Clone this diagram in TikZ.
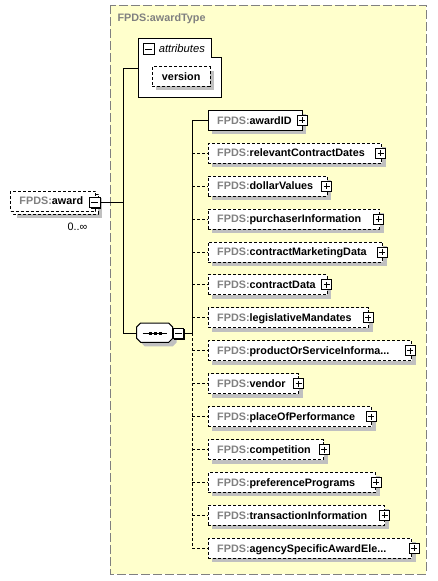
\documentclass[tikz,border=0pt]{standalone}
\usepackage{fontspec}
\setmainfont{Liberation Sans}
\usetikzlibrary{shadows}
\definecolor{typebg}{HTML}{FFFFCC}
\definecolor{framegray}{HTML}{808080}
\definecolor{boxshadow}{HTML}{C0C0C0}
\definecolor{prefixgray}{HTML}{808080}
\newcommand{\fpds}{\textcolor{prefixgray}{FPDS:}}
\tikzset{
    shade/.style={drop shadow={shadow xshift=4pt, shadow yshift=-4pt, fill=boxshadow, opacity=1}},
    elem/.style={draw, fill=white, anchor=west, minimum height=20pt, inner xsep=9pt, inner ysep=0pt,
        text height=9.4pt, text depth=2pt, align=left, font=\bfseries\fontsize{10.8}{12}\selectfont},
    opt/.style={elem, dash pattern=on 3pt off 2pt},
    link/.style={dash pattern=on 3pt off 2pt},
    plusbox/.style={draw, fill=white, minimum size=10pt, inner sep=0pt, line width=0.9pt,
        path picture={
            \draw[line width=0.9pt] ([yshift=-2pt]path picture bounding box.north) -- ([yshift=2pt]path picture bounding box.south);
            \draw[line width=0.9pt] ([xshift=2pt]path picture bounding box.west) -- ([xshift=-2pt]path picture bounding box.east);
        }},
    minusbox/.style={draw, fill=white, minimum size=10.5pt, inner sep=0pt, line width=0.9pt,
        drop shadow={shadow xshift=1.2pt, shadow yshift=-1.2pt, fill=black, opacity=1},
        path picture={
            \draw[line width=0.9pt] ([xshift=2pt]path picture bounding box.west) -- ([xshift=-2pt]path picture bounding box.east);
        }}
}
\begin{document}
\begin{tikzpicture}[x=1pt, y=-1pt, line width=1pt]
    \useasboundingbox (0,0) rectangle (437,581);

    \draw[fill=typebg, draw=framegray, dash pattern=on 9pt off 3pt] (110,5) rectangle (426,574);
    \node[anchor=west, inner sep=0pt, text=framegray, font=\bfseries\fontsize{10.8}{12}\selectfont] (typename) at (117,19) {FPDS:awardType};

    \fill[boxshadow] (17,198) rectangle (102,218);
    \draw[link, fill=white] (13,194) rectangle (98,214);
    \node[opt, text width=67pt] (award) at (10,201.2) {\fpds award};
    \node[minusbox] (amin) at (94.7,202.3) {};
    \node[font=\fontsize{10.8}{12}\selectfont, inner sep=0pt] (card) at (77.5,226.7) {0..∞};

    \node[minimum width=83.4pt, minimum height=59pt, inner sep=0pt] (attr) at (180,67.8) {};
    \draw[fill=white] (138.3,38.3) -- (211.7,38.3) -- (211.7,57.3) -- (221.7,57.3) -- (221.7,97.3) -- (138.3,97.3) -- cycle;
    \node[minusbox, drop shadow={shadow xshift=0pt, shadow yshift=0pt, fill=black, opacity=0}] (attrmin) at (148.7,49) {};
    \node[anchor=west, inner sep=0pt, font=\itshape\fontsize{11.2}{12}\selectfont] (attrlabel) at (158.3,48.5) {attributes};
    \node[opt, shade, anchor=center, minimum width=57.7pt, minimum height=19.3pt, inner xsep=0pt] (version) at (181.2,76.4) {version};

    \fill[boxshadow] (144.7,327) -- (172.7,327) -- (176.7,331) -- (176.7,342.3) -- (172.7,346.3) -- (144.7,346.3) -- (140.7,342.3) -- (140.7,331) -- cycle;
    \draw[fill=white] (140.7,323) -- (168.7,323) -- (172.7,327) -- (172.7,338.3) -- (168.7,342.3) -- (140.7,342.3) -- (136.7,338.3) -- (136.7,327) -- cycle;
    \node[minimum width=36pt, minimum height=19.3pt, inner sep=0pt] (seq) at (154.7,332.7) {};
    \draw (142.7,333.3) -- (166.7,333.3);
    \fill (149.3,332) rectangle (152.3,334.7);
    \fill (154.3,332) rectangle (157.3,334.7);
    \fill (159.3,332) rectangle (162.3,334.7);
    \node[minusbox] (smin) at (178.3,333.3) {};

    \node[elem, shade, text width=76pt] (awardID) at (207.7,120.3) {\fpds awardID};
    \node[opt, shade, text width=155.3pt] (relDates) at (207.7,153.2) {\fpds relevantContractDates};
    \node[opt, shade, text width=101pt] (dollars) at (207.7,186.1) {\fpds dollarValues};
    \node[opt, shade, text width=153.3pt] (purchaser) at (207.7,219) {\fpds purchaserInformation};
    \node[opt, shade, text width=156.3pt] (marketing) at (207.7,252) {\fpds contractMarketingData};
    \node[opt, shade, text width=101pt] (contract) at (207.7,284.9) {\fpds contractData};
    \node[opt, shade, text width=142.6pt] (mandates) at (207.7,317.8) {\fpds legislativeMandates};
    \node[opt, shade, text width=185.3pt] (product) at (207.7,350.7) {\fpds productOrServiceInforma...};
    \node[opt, shade, text width=72.6pt] (vendor) at (207.7,383.7) {\fpds vendor};
    \node[opt, shade, text width=145.3pt] (place) at (207.7,416.6) {\fpds placeOfPerformance};
    \node[opt, shade, text width=97.6pt] (competition) at (207.7,449.5) {\fpds competition};
    \node[opt, shade, text width=149.3pt] (preference) at (207.7,482.4) {\fpds preferencePrograms};
    \node[opt, shade, text width=158.6pt] (transaction) at (207.7,515.4) {\fpds transactionInformation};
    \node[opt, shade, text width=185.3pt] (agency) at (207.7,548.3) {\fpds agencySpecificAwardEle...};

    \node[plusbox] (awardIDplus) at ([xshift=-0.5pt]awardID.east) {};
    \node[plusbox] (relDatesplus) at ([xshift=-1.5pt]relDates.east) {};
    \node[plusbox] (dollarsplus) at ([xshift=-1pt]dollars.east) {};
    \node[plusbox] (purchaserplus) at ([xshift=-1.3pt]purchaser.east) {};
    \node[plusbox] (marketingplus) at ([xshift=-1pt]marketing.east) {};
    \node[plusbox] (contractplus) at ([xshift=-1pt]contract.east) {};
    \node[plusbox] (mandatesplus) at ([xshift=-1pt]mandates.east) {};
    \node[plusbox] (productplus) at ([xshift=-2pt]product.east) {};
    \node[plusbox] (vendorplus) at ([xshift=-0.6pt]vendor.east) {};
    \node[plusbox] (placeplus) at ([xshift=-0.7pt]place.east) {};
    \node[plusbox] (competitionplus) at (competition.east) {};
    \node[plusbox] (preferenceplus) at (preference.east) {};
    \node[plusbox] (transactionplus) at ([xshift=-0.6pt]transaction.east) {};
    \node[plusbox] (agencyplus) at ([xshift=2pt]agency.east) {};

    \coordinate (fork) at (123.3,68.3);
    \draw (amin.east) -- (fork |- amin.east);
    \draw (attr.west |- fork) -- (fork) -- (fork |- smin.east) -- (seq.west |- smin.east);

    \coordinate (bus) at (192.3,120.3);
    \draw (smin.east) -- (bus |- smin.east);
    \draw (awardID.west) -- (bus) -- (bus |- smin.east);
    \draw[link] (bus |- smin.east) -- (bus |- agency.west);
    \draw[link] (bus |- relDates.west) -- (relDates.west);
    \draw[link] (bus |- dollars.west) -- (dollars.west);
    \draw[link] (bus |- purchaser.west) -- (purchaser.west);
    \draw[link] (bus |- marketing.west) -- (marketing.west);
    \draw[link] (bus |- contract.west) -- (contract.west);
    \draw[link] (bus |- mandates.west) -- (mandates.west);
    \draw[link] (bus |- product.west) -- (product.west);
    \draw[link] (bus |- vendor.west) -- (vendor.west);
    \draw[link] (bus |- place.west) -- (place.west);
    \draw[link] (bus |- competition.west) -- (competition.west);
    \draw[link] (bus |- preference.west) -- (preference.west);
    \draw[link] (bus |- transaction.west) -- (transaction.west);
    \draw[link] (bus |- agency.west) -- (agency.west);

\end{tikzpicture}
\end{document}
